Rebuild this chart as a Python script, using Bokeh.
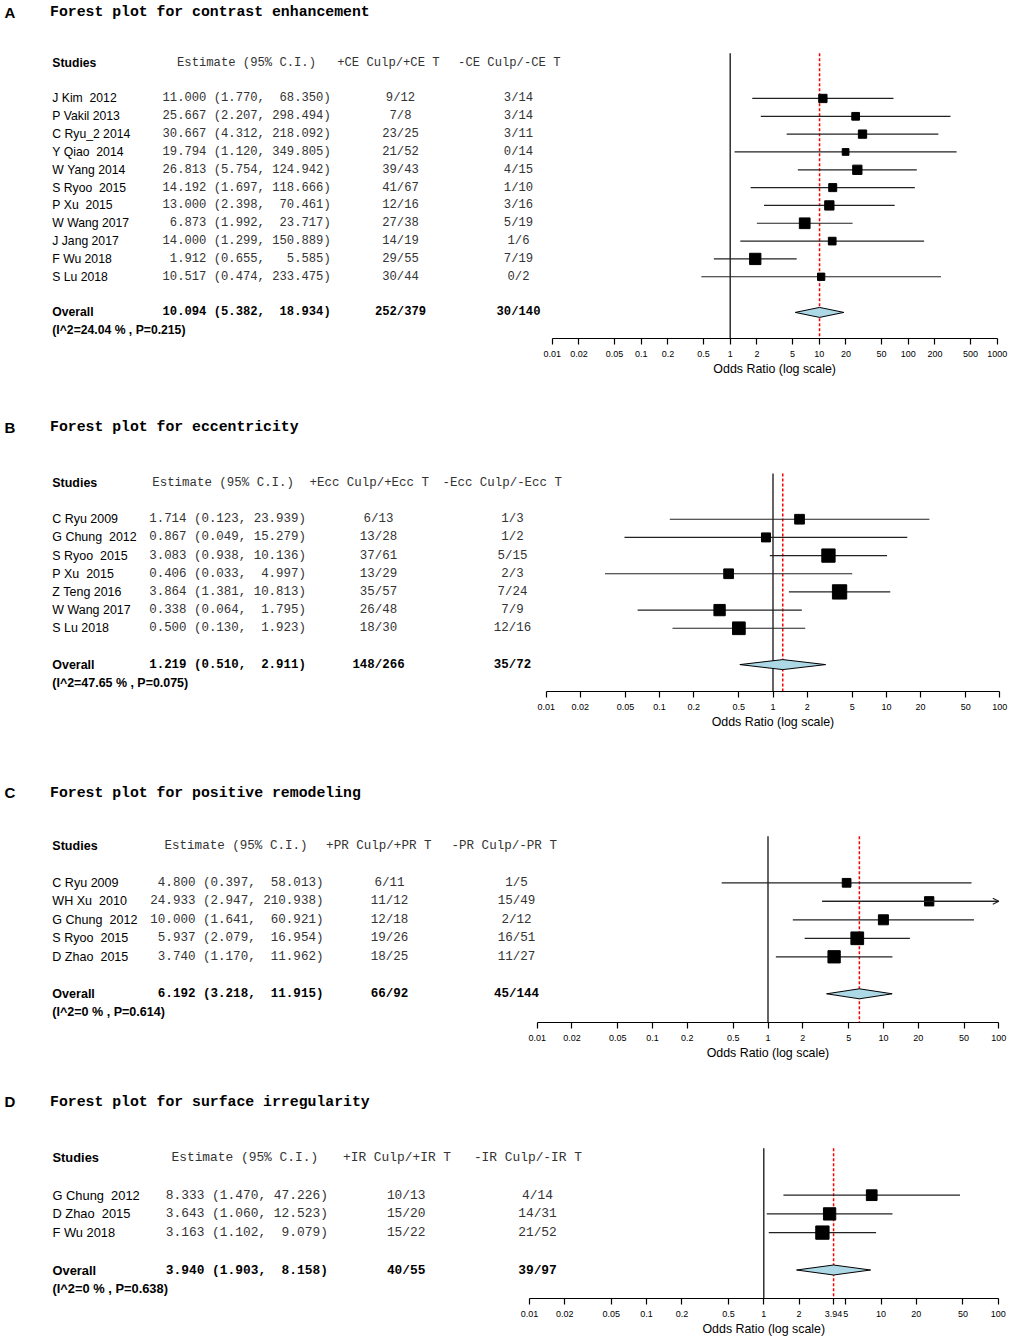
import math
from bokeh.plotting import figure
from bokeh.layouts import column
from bokeh.models import (Range1d, FixedTicker, CustomJSTickFormatter, Title,
                          Arrow, OpenHead, ColumnDataSource)
from bokeh.core.properties import value
from bokeh.embed import file_html
from bokeh.resources import INLINE

MONO = "Liberation Mono"
SANS = "Liberation Sans"

# ---------------- Panel A : contrast enhancement ----------------
a_letter = "A"
a_title = "Forest plot for contrast enhancement"
a_studies = ["J Kim  2012", "P Vakil 2013", "C Ryu_2 2014", "Y Qiao  2014", "W Yang 2014",
             "S Ryoo  2015", "P Xu  2015", "W Wang 2017", "J Jang 2017", "F Wu 2018", "S Lu 2018"]
a_est = [11.000, 25.667, 30.667, 19.794, 26.813, 14.192, 13.000, 6.873, 14.000, 1.912, 10.517]
a_lo = [1.770, 2.207, 4.312, 1.120, 5.754, 1.697, 2.398, 1.992, 1.299, 0.655, 0.474]
a_hi = [68.350, 298.494, 218.092, 349.805, 124.942, 118.666, 70.461, 23.717, 150.889, 5.585, 233.475]
a_pos = ["9/12", "7/8", "23/25", "21/52", "39/43", "41/67", "12/16", "27/38", "14/19", "29/55", "30/44"]
a_neg = ["3/14", "3/14", "3/11", "0/14", "4/15", "1/10", "3/16", "5/19", "1/6", "7/19", "0/2"]
a_weight = [8.3, 7.7, 8.3, 6.7, 9.3, 8.0, 9.3, 10.7, 7.7, 11.3, 7.3]
a_overall = [10.094, 5.382, 18.934]
a_overall_pos = "252/379"
a_overall_neg = "30/140"
a_het = "(I^2=24.04 % , P=0.215)"
a_pos_hdr = "+CE Culp/+CE T"
a_neg_hdr = "-CE Culp/-CE T"
a_ticks = [0.01, 0.02, 0.05, 0.1, 0.2, 0.5, 1, 2, 5, 10, 20, 50, 100, 200, 500, 1000]

# ---------------- Panel B : eccentricity ----------------
b_letter = "B"
b_title = "Forest plot for eccentricity"
b_studies = ["C Ryu 2009", "G Chung  2012", "S Ryoo  2015", "P Xu  2015", "Z Teng 2016",
             "W Wang 2017", "S Lu 2018"]
b_est = [1.714, 0.867, 3.083, 0.406, 3.864, 0.338, 0.500]
b_lo = [0.123, 0.049, 0.938, 0.033, 1.381, 0.064, 0.130]
b_hi = [23.939, 15.279, 10.136, 4.997, 10.813, 1.795, 1.923]
b_pos = ["6/13", "13/28", "37/61", "13/29", "35/57", "26/48", "18/30"]
b_neg = ["1/3", "1/2", "5/15", "2/3", "7/24", "7/9", "12/16"]
b_weight = [9.7, 9.0, 13.3, 9.7, 14.3, 11.3, 12.7]
b_overall = [1.219, 0.510, 2.911]
b_overall_pos = "148/266"
b_overall_neg = "35/72"
b_het = "(I^2=47.65 % , P=0.075)"
b_pos_hdr = "+Ecc Culp/+Ecc T"
b_neg_hdr = "-Ecc Culp/-Ecc T"
b_ticks = [0.01, 0.02, 0.05, 0.1, 0.2, 0.5, 1, 2, 5, 10, 20, 50, 100]

# ---------------- Panel C : positive remodeling ----------------
c_letter = "C"
c_title = "Forest plot for positive remodeling"
c_studies = ["C Ryu 2009", "WH Xu  2010", "G Chung  2012", "S Ryoo  2015", "D Zhao  2015"]
c_est = [4.800, 24.933, 10.000, 5.937, 3.740]
c_lo = [0.397, 2.947, 1.641, 2.079, 1.170]
c_hi = [58.013, 210.938, 60.921, 16.954, 11.962]
c_pos = ["6/11", "11/12", "12/18", "19/26", "18/25"]
c_neg = ["1/5", "15/49", "2/12", "16/51", "11/27"]
c_weight = [8.7, 9.3, 10.0, 12.7, 12.3]
c_overall = [6.192, 3.218, 11.915]
c_overall_pos = "66/92"
c_overall_neg = "45/144"
c_het = "(I^2=0 % , P=0.614)"
c_pos_hdr = "+PR Culp/+PR T"
c_neg_hdr = "-PR Culp/-PR T"
c_ticks = [0.01, 0.02, 0.05, 0.1, 0.2, 0.5, 1, 2, 5, 10, 20, 50, 100]

# ---------------- Panel D : surface irregularity ----------------
d_letter = "D"
d_title = "Forest plot for surface irregularity"
d_studies = ["G Chung  2012", "D Zhao  2015", "F Wu 2018"]
d_est = [8.333, 3.643, 3.163]
d_lo = [1.470, 1.060, 1.102]
d_hi = [47.226, 12.523, 9.079]
d_pos = ["10/13", "15/20", "15/22"]
d_neg = ["4/14", "14/31", "21/52"]
d_weight = [10.7, 12.3, 13.3]
d_overall = [3.940, 1.903, 8.158]
d_overall_pos = "40/55"
d_overall_neg = "39/97"
d_het = "(I^2=0 % , P=0.638)"
d_pos_hdr = "+IR Culp/+IR T"
d_neg_hdr = "-IR Culp/-IR T"
d_ticks = [0.01, 0.02, 0.05, 0.1, 0.2, 0.5, 1, 2, 3.94, 5, 10, 20, 50, 100]

AXIS_TITLE = "Odds Ratio (log scale)"

PANELS = [
    dict(letter=a_letter, title=a_title, studies=a_studies, est=a_est, lo=a_lo, hi=a_hi,
         pos=a_pos, neg=a_neg, weight=a_weight, overall=a_overall, opos=a_overall_pos,
         oneg=a_overall_neg, het=a_het, pos_hdr=a_pos_hdr, neg_hdr=a_neg_hdr, ticks=a_ticks),
    dict(letter=b_letter, title=b_title, studies=b_studies, est=b_est, lo=b_lo, hi=b_hi,
         pos=b_pos, neg=b_neg, weight=b_weight, overall=b_overall, opos=b_overall_pos,
         oneg=b_overall_neg, het=b_het, pos_hdr=b_pos_hdr, neg_hdr=b_neg_hdr, ticks=b_ticks),
    dict(letter=c_letter, title=c_title, studies=c_studies, est=c_est, lo=c_lo, hi=c_hi,
         pos=c_pos, neg=c_neg, weight=c_weight, overall=c_overall, opos=c_overall_pos,
         oneg=c_overall_neg, het=c_het, pos_hdr=c_pos_hdr, neg_hdr=c_neg_hdr, ticks=c_ticks),
    dict(letter=d_letter, title=d_title, studies=d_studies, est=d_est, lo=d_lo, hi=d_hi,
         pos=d_pos, neg=d_neg, weight=d_weight, overall=d_overall, opos=d_overall_pos,
         oneg=d_overall_neg, het=d_het, pos_hdr=d_pos_hdr, neg_hdr=d_neg_hdr, ticks=d_ticks),
]

# ---------------- layout geometry (page pixels) ----------------
PAGE_LEFT = 0
PAGE_RIGHT = 1009
GEOM = [
    dict(top=0, height=405, frame_bottom=338, tick0=551.7, ppd=89.0, header=62.3, step=17.83,
         title_y=11.5, cw=7.32, x_name=51.8, x_est=162.0, x_hdr_est=176.5, x_hdr_pos=336.7,
         x_pos=400.0, x_hdr_neg=457.6, x_neg=518.0),
    dict(top=405, height=365, frame_bottom=691, tick0=545.7, ppd=113.4, header=482.4, step=18.17,
         title_y=426.5, cw=7.47, x_name=51.8, x_est=148.7, x_hdr_est=151.7, x_hdr_pos=309.0,
         x_pos=378.0, x_hdr_neg=442.0, x_neg=512.0),
    dict(top=770, height=310, frame_bottom=1022, tick0=536.7, ppd=115.4, header=845.3, step=18.5,
         title_y=792.0, cw=7.53, x_name=51.8, x_est=149.8, x_hdr_est=164.0, x_hdr_pos=325.6,
         x_pos=389.0, x_hdr_neg=451.0, x_neg=516.0),
    dict(top=1080, height=259, frame_bottom=1298, tick0=528.9, ppd=117.2, header=1157.3, step=18.7,
         title_y=1101.0, cw=7.72, x_name=52.0, x_est=165.3, x_hdr_est=171.0, x_hdr_pos=342.5,
         x_pos=405.7, x_hdr_neg=473.4, x_neg=537.0),
]

NBSP = "\u00a0"


def fmt_ci(est, lo, hi, we, wh):
    s = f"{est:{we}.3f} ({lo:.3f}, {hi:{wh}.3f})"
    return s.replace(" ", NBSP)


def build(d, g):
    t0 = d["ticks"][0]
    tmax = d["ticks"][-1]
    lt0 = math.log10(t0)

    def px2x(px):
        return 10 ** (lt0 + (px - g["tick0"]) / g["ppd"])

    def py2r(py):
        return (py - g["header"]) / g["step"]

    border = g["top"] + g["height"] - g["frame_bottom"]
    p = figure(width=PAGE_RIGHT - PAGE_LEFT, height=g["height"], x_axis_type="log",
               x_range=Range1d(px2x(PAGE_LEFT), px2x(PAGE_RIGHT)),
               y_range=Range1d(py2r(g["frame_bottom"]), py2r(g["top"])),
               y_axis_location=None, toolbar_location=None, output_backend="svg",
               min_border_left=0, min_border_right=0, min_border_top=0,
               min_border_bottom=border, outline_line_color=None,
               background_fill_color="white", border_fill_color="white")
    p.xgrid.visible = False
    p.ygrid.visible = False

    mono_size = g["cw"] / 0.6
    sans_size = mono_size

    def txt(xs_px, rows, texts, font, size, style="normal", color="#000000", align="left"):
        src = ColumnDataSource(dict(x=[px2x(v) for v in xs_px], y=rows, t=texts))
        p.text(x="x", y="y", text="t", source=src, text_font=value(font),
               text_font_size=value(f"{size:.2f}px"), text_font_style=value(style),
               text_color=value(color), text_align=value(align), text_baseline=value("middle"))

    n = len(d["studies"])
    rows = [2 + i for i in range(n)]
    r_over = n + 3
    r_het = n + 4
    r_title = py2r(g["title_y"])
    r_vtop = py2r(g["header"] - 9.5)
    r_bottom = py2r(g["frame_bottom"])

    # titles
    txt([4], [r_title], [d["letter"]], SANS, 15, "bold")
    txt([49.5], [r_title], [d["title"]], MONO, 14.8, "bold")

    # header row
    txt([g["x_name"]], [0], ["Studies"], SANS, sans_size, "bold")
    txt([g["x_hdr_est"]], [0], ["Estimate (95% C.I.)"], MONO, mono_size, color="#333333")
    txt([g["x_hdr_pos"]], [0], [d["pos_hdr"]], MONO, mono_size, color="#333333")
    txt([g["x_hdr_neg"]], [0], [d["neg_hdr"]], MONO, mono_size, color="#333333")

    # study rows
    allv_e = d["est"] + [d["overall"][0]]
    allv_h = d["hi"] + [d["overall"][2]]
    we = max(len(f"{v:.3f}") for v in allv_e)
    wh = max(len(f"{v:.3f}") for v in allv_h)
    names = [s.replace(" ", NBSP) for s in d["studies"]]
    cis = [fmt_ci(e, l, h, we, wh) for e, l, h in zip(d["est"], d["lo"], d["hi"])]
    txt([g["x_name"]] * n, rows, names, SANS, sans_size)
    txt([g["x_est"]] * n, rows, cis, MONO, mono_size, color="#333333")
    txt([g["x_pos"]] * n, rows, d["pos"], MONO, mono_size, color="#333333", align="center")
    txt([g["x_neg"]] * n, rows, d["neg"], MONO, mono_size, color="#333333", align="center")

    # overall rows
    oe, ol, oh = d["overall"]
    txt([g["x_name"]], [r_over], ["Overall"], SANS, sans_size, "bold")
    txt([g["x_est"]], [r_over], [fmt_ci(oe, ol, oh, we, wh)], MONO, mono_size, "bold")
    txt([g["x_pos"]], [r_over], [d["opos"]], MONO, mono_size, "bold", align="center")
    txt([g["x_neg"]], [r_over], [d["oneg"]], MONO, mono_size, "bold", align="center")
    txt([g["x_name"]], [r_het], [d["het"]], SANS, sans_size, "bold")

    # reference lines
    p.segment(x0=[1], y0=[r_vtop], x1=[1], y1=[r_bottom], line_color="#111111", line_width=1.3)
    p.segment(x0=[oe], y0=[r_vtop], x1=[oe], y1=[r_bottom], line_color="#ff0000",
              line_width=1.5, line_dash="3 2")

    # confidence intervals
    hi_clip = [min(h, tmax) for h in d["hi"]]
    p.segment(x0=d["lo"], y0=rows, x1=hi_clip, y1=rows, line_color="#222222", line_width=1.2)
    for lo_, h, r in zip(d["lo"], d["hi"], rows):
        if h > tmax:
            p.add_layout(Arrow(end=OpenHead(size=6, line_width=1.2, line_color="#222222"),
                               x_start=lo_, y_start=r, x_end=tmax, y_end=r,
                               line_width=1.2, line_color="#222222"))

    # study boxes (size from study weight)
    p.scatter(x=d["est"], y=rows, size=d["weight"], marker="square",
              fill_color="black", line_color="black")

    # overall diamond
    hh = 5.0 / g["step"]
    p.patch(x=[ol, oe, oh, oe], y=[r_over, r_over - hh, r_over, r_over + hh],
            fill_color="#add8e6", line_color="black", line_width=1.0)

    # axis
    ax = p.xaxis[0]
    ax.ticker = FixedTicker(ticks=d["ticks"])
    ax.formatter = CustomJSTickFormatter(code="return String(tick);")
    ax.bounds = (t0, tmax)
    ax.minor_tick_line_color = None
    ax.major_tick_in = 0
    ax.major_tick_out = 6
    ax.major_label_standoff = 6
    ax.major_label_text_font = SANS
    ax.major_label_text_font_size = "9px"
    ax.major_label_text_color = "black"
    ax.axis_line_width = 1.2
    ax.axis_line_color = "black"
    ax.major_tick_line_width = 1.2
    ax.major_tick_line_color = "black"
    ax.axis_label = None

    x_l = g["tick0"]
    x_r = g["tick0"] + g["ppd"] * (math.log10(tmax) - lt0)
    center = (x_l + x_r) / 2
    tw = 9.892 * 12.4
    p.add_layout(Title(text=AXIS_TITLE, align="left", offset=center - PAGE_LEFT - tw / 2,
                       text_font=SANS, text_font_size="12.4px", text_font_style="normal",
                       text_color="black", standoff=0), "below")
    return p


figs = [build(d, g) for d, g in zip(PANELS, GEOM)]
layout = column(*figs, spacing=0)
open("out.html", "w").write(file_html(layout, INLINE))
